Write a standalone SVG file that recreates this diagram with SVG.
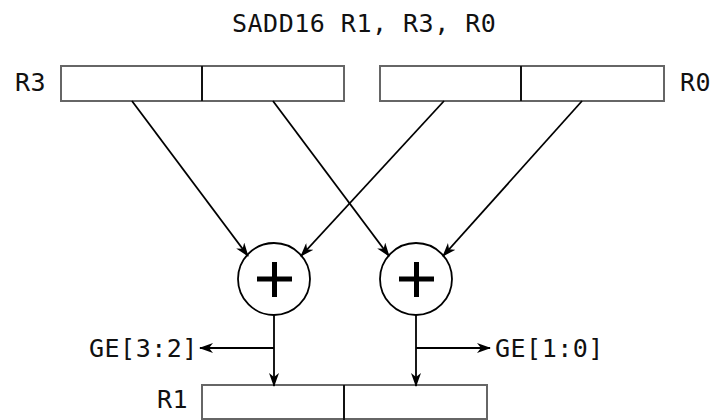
<svg xmlns="http://www.w3.org/2000/svg" width="723" height="420" viewBox="0 0 723 420">
<style>
text{font-family:"DejaVu Sans Mono","Liberation Mono",monospace;font-size:25px;letter-spacing:0.5px;fill:#111}
.box{fill:#fff;stroke:#666;stroke-width:2}
.div{stroke:#111;stroke-width:2}
.ln{stroke:#000;stroke-width:1.8;fill:none}
.circ{fill:#fff;stroke:#000;stroke-width:1.8}
.plus{stroke:#000;stroke-width:5}
</style>
<defs>
<marker id="ah" viewBox="0 0 14 10" refX="13" refY="5" markerWidth="14" markerHeight="10" markerUnits="userSpaceOnUse" orient="auto">
<path d="M0,0 L14,5 L0,10 L4,5 z" fill="#000"/>
</marker>
</defs>
<text x="232" y="32">SADD16 R1, R3, R0</text>
<g id="r3">
<text x="15" y="91">R3</text>
<rect class="box" x="61" y="66" width="283" height="35"/>
<line class="div" x1="202" y1="66" x2="202" y2="101"/>
</g>
<g id="r0">
<text x="680" y="91">R0</text>
<rect class="box" x="380" y="66" width="284" height="35"/>
<line class="div" x1="521" y1="66" x2="521" y2="101"/>
</g>
<g id="add1">
<circle class="circ" cx="274" cy="279" r="36"/>
<path class="plus" d="M257,279 H292 M274.5,262 V297"/>
</g>
<g id="add2">
<circle class="circ" cx="416" cy="279" r="36"/>
<path class="plus" d="M399,279 H434 M416.5,262 V297"/>
</g>
<g id="r1">
<text x="157" y="408">R1</text>
<rect class="box" x="202" y="385" width="285" height="34"/>
<line class="div" x1="344" y1="385" x2="344" y2="420"/>
</g>
<g id="ge32"><text x="89" y="357">GE[3:2]</text></g>
<g id="ge10"><text x="495" y="357">GE[1:0]</text></g>
<g id="connectors">
<line class="ln" x1="132" y1="101" x2="248" y2="256" marker-end="url(#ah)"/>
<line class="ln" x1="273" y1="101" x2="389" y2="256" marker-end="url(#ah)"/>
<line class="ln" x1="444" y1="101" x2="301" y2="256" marker-end="url(#ah)"/>
<line class="ln" x1="582" y1="101" x2="443" y2="256" marker-end="url(#ah)"/>
<line class="ln" x1="274" y1="315" x2="274" y2="386" marker-end="url(#ah)"/>
<line class="ln" x1="416" y1="315" x2="416" y2="386" marker-end="url(#ah)"/>
<line class="ln" x1="274" y1="348" x2="200" y2="348" marker-end="url(#ah)"/>
<line class="ln" x1="416" y1="348" x2="490" y2="348" marker-end="url(#ah)"/>
</g>
</svg>
